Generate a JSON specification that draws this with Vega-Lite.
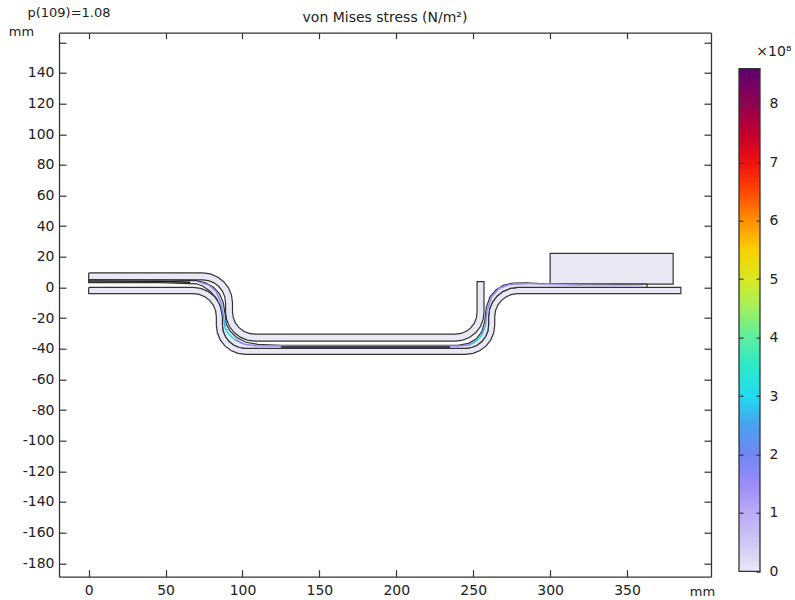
{
"$schema":"https://vega.github.io/schema/vega-lite/v6.json",
"background":"white",
"padding":{"left":8,"top":6.7,"right":0,"bottom":0},
"bounds":"flush",
"spacing":28,
"config":{"view":{"stroke":null},"font":"DejaVu Sans",
"axis":{"grid":false,"domainColor":"#333333","domainWidth":1.3,"tickColor":"#333333","tickWidth":1.2,"labelColor":"#222222","labelFont":"DejaVu Sans","labelFontSize":14,"titleFont":"DejaVu Sans","titleFontWeight":"normal","titleColor":"#222222"}},
"datasets":{
"outline":[
{"shape":"top","ord":1,"x":0,"y":9.5},{"shape":"top","ord":2,"x":74,"y":9.5},{"shape":"top","ord":3,"x":79.05,"y":8.84},{"shape":"top","ord":4,"x":83.75,"y":6.89},{"shape":"top","ord":5,"x":87.79,"y":3.79},{"shape":"top","ord":6,"x":90.89,"y":-0.25},{"shape":"top","ord":7,"x":92.84,"y":-4.95},{"shape":"top","ord":8,"x":93.5,"y":-10},{"shape":"top","ord":9,"x":93.5,"y":-16},{"shape":"top","ord":10,"x":94,"y":-19.75},{"shape":"top","ord":11,"x":95.44,"y":-23.25},{"shape":"top","ord":12,"x":97.75,"y":-26.25},{"shape":"top","ord":13,"x":100.75,"y":-28.56},{"shape":"top","ord":14,"x":104.25,"y":-30},{"shape":"top","ord":15,"x":108,"y":-30.5},{"shape":"top","ord":16,"x":238.5,"y":-30.5},{"shape":"top","ord":17,"x":242.12,"y":-30.02},{"shape":"top","ord":18,"x":245.5,"y":-28.62},{"shape":"top","ord":19,"x":248.4,"y":-26.4},{"shape":"top","ord":20,"x":250.62,"y":-23.5},{"shape":"top","ord":21,"x":252.02,"y":-20.12},{"shape":"top","ord":22,"x":252.5,"y":-16.5},{"shape":"top","ord":23,"x":252.5,"y":3.8},{"shape":"top","ord":24,"x":257,"y":3.8},{"shape":"top","ord":25,"x":257,"y":-16.5},{"shape":"top","ord":26,"x":256.37,"y":-21.29},{"shape":"top","ord":27,"x":254.52,"y":-25.75},{"shape":"top","ord":28,"x":251.58,"y":-29.58},{"shape":"top","ord":29,"x":247.75,"y":-32.52},{"shape":"top","ord":30,"x":243.29,"y":-34.37},{"shape":"top","ord":31,"x":238.5,"y":-35},{"shape":"top","ord":32,"x":108,"y":-35},{"shape":"top","ord":33,"x":103.08,"y":-34.35},{"shape":"top","ord":34,"x":98.5,"y":-32.45},{"shape":"top","ord":35,"x":94.56,"y":-29.44},{"shape":"top","ord":36,"x":91.55,"y":-25.5},{"shape":"top","ord":37,"x":89.65,"y":-20.92},{"shape":"top","ord":38,"x":89,"y":-16},{"shape":"top","ord":39,"x":89,"y":-10},{"shape":"top","ord":40,"x":88.49,"y":-6.12},{"shape":"top","ord":41,"x":86.99,"y":-2.5},{"shape":"top","ord":42,"x":84.61,"y":0.61},{"shape":"top","ord":43,"x":81.5,"y":2.99},{"shape":"top","ord":44,"x":77.88,"y":4.49},{"shape":"top","ord":45,"x":74,"y":5},{"shape":"top","ord":46,"x":0,"y":5},{"shape":"top","ord":47,"x":0,"y":9.5},
{"shape":"bottom","ord":1,"x":0,"y":0},{"shape":"bottom","ord":2,"x":68,"y":0},{"shape":"bottom","ord":3,"x":72.92,"y":-0.65},{"shape":"bottom","ord":4,"x":77.5,"y":-2.55},{"shape":"bottom","ord":5,"x":81.44,"y":-5.56},{"shape":"bottom","ord":6,"x":84.45,"y":-9.5},{"shape":"bottom","ord":7,"x":86.35,"y":-14.08},{"shape":"bottom","ord":8,"x":87,"y":-19},{"shape":"bottom","ord":9,"x":87,"y":-24.7},{"shape":"bottom","ord":10,"x":87.51,"y":-28.58},{"shape":"bottom","ord":11,"x":89.01,"y":-32.2},{"shape":"bottom","ord":12,"x":91.39,"y":-35.31},{"shape":"bottom","ord":13,"x":94.5,"y":-37.69},{"shape":"bottom","ord":14,"x":98.12,"y":-39.19},{"shape":"bottom","ord":15,"x":102,"y":-39.7},{"shape":"bottom","ord":16,"x":245,"y":-39.7},{"shape":"bottom","ord":17,"x":248.88,"y":-39.19},{"shape":"bottom","ord":18,"x":252.5,"y":-37.69},{"shape":"bottom","ord":19,"x":255.61,"y":-35.31},{"shape":"bottom","ord":20,"x":257.99,"y":-32.2},{"shape":"bottom","ord":21,"x":259.49,"y":-28.58},{"shape":"bottom","ord":22,"x":260,"y":-24.7},{"shape":"bottom","ord":23,"x":260,"y":-19},{"shape":"bottom","ord":24,"x":260.65,"y":-14.08},{"shape":"bottom","ord":25,"x":262.55,"y":-9.5},{"shape":"bottom","ord":26,"x":265.56,"y":-5.56},{"shape":"bottom","ord":27,"x":269.5,"y":-2.55},{"shape":"bottom","ord":28,"x":274.08,"y":-0.65},{"shape":"bottom","ord":29,"x":279,"y":0},{"shape":"bottom","ord":30,"x":385,"y":0},{"shape":"bottom","ord":31,"x":385,"y":-4},{"shape":"bottom","ord":32,"x":279,"y":-4},{"shape":"bottom","ord":33,"x":275.12,"y":-4.51},{"shape":"bottom","ord":34,"x":271.5,"y":-6.01},{"shape":"bottom","ord":35,"x":268.39,"y":-8.39},{"shape":"bottom","ord":36,"x":266.01,"y":-11.5},{"shape":"bottom","ord":37,"x":264.51,"y":-15.12},{"shape":"bottom","ord":38,"x":264,"y":-19},{"shape":"bottom","ord":39,"x":264,"y":-24.7},{"shape":"bottom","ord":40,"x":263.35,"y":-29.62},{"shape":"bottom","ord":41,"x":261.45,"y":-34.2},{"shape":"bottom","ord":42,"x":258.44,"y":-38.14},{"shape":"bottom","ord":43,"x":254.5,"y":-41.15},{"shape":"bottom","ord":44,"x":249.92,"y":-43.05},{"shape":"bottom","ord":45,"x":245,"y":-43.7},{"shape":"bottom","ord":46,"x":102,"y":-43.7},{"shape":"bottom","ord":47,"x":97.08,"y":-43.05},{"shape":"bottom","ord":48,"x":92.5,"y":-41.15},{"shape":"bottom","ord":49,"x":88.56,"y":-38.14},{"shape":"bottom","ord":50,"x":85.55,"y":-34.2},{"shape":"bottom","ord":51,"x":83.65,"y":-29.62},{"shape":"bottom","ord":52,"x":83,"y":-24.7},{"shape":"bottom","ord":53,"x":83,"y":-19},{"shape":"bottom","ord":54,"x":82.49,"y":-15.12},{"shape":"bottom","ord":55,"x":80.99,"y":-11.5},{"shape":"bottom","ord":56,"x":78.61,"y":-8.39},{"shape":"bottom","ord":57,"x":75.5,"y":-6.01},{"shape":"bottom","ord":58,"x":71.88,"y":-4.51},{"shape":"bottom","ord":59,"x":68,"y":-4},{"shape":"bottom","ord":60,"x":0,"y":-4},{"shape":"bottom","ord":61,"x":0,"y":0},
{"shape":"block","ord":1,"x":300,"y":2.2},{"shape":"block","ord":2,"x":380,"y":2.2},{"shape":"block","ord":3,"x":380,"y":22.2},{"shape":"block","ord":4,"x":300,"y":22.2},{"shape":"block","ord":5,"x":300,"y":2.2},
{"shape":"sheet","ord":1,"x":0,"y":5.2},{"shape":"sheet","ord":2,"x":46,"y":5},{"shape":"sheet","ord":3,"x":70,"y":4.4},{"shape":"sheet","ord":4,"x":76,"y":3},{"shape":"sheet","ord":5,"x":81,"y":0.3},{"shape":"sheet","ord":6,"x":85,"y":-4},{"shape":"sheet","ord":7,"x":87.5,"y":-10},{"shape":"sheet","ord":8,"x":88.8,"y":-18},{"shape":"sheet","ord":9,"x":89.5,"y":-24},{"shape":"sheet","ord":10,"x":92,"y":-28.5},{"shape":"sheet","ord":11,"x":96,"y":-32.5},{"shape":"sheet","ord":12,"x":102,"y":-35.6},{"shape":"sheet","ord":13,"x":110,"y":-37.2},{"shape":"sheet","ord":14,"x":125,"y":-37.8},{"shape":"sheet","ord":15,"x":240,"y":-37.8},{"shape":"sheet","ord":16,"x":247,"y":-36.5},{"shape":"sheet","ord":17,"x":252,"y":-33.5},{"shape":"sheet","ord":18,"x":255.5,"y":-29},{"shape":"sheet","ord":19,"x":257.5,"y":-22},{"shape":"sheet","ord":20,"x":258.5,"y":-13},{"shape":"sheet","ord":21,"x":261,"y":-6},{"shape":"sheet","ord":22,"x":265,"y":-1.5},{"shape":"sheet","ord":23,"x":270,"y":1.5},{"shape":"sheet","ord":24,"x":276,"y":2.9},{"shape":"sheet","ord":25,"x":285,"y":3},{"shape":"sheet","ord":26,"x":300,"y":2.2},{"shape":"sheet","ord":27,"x":363,"y":2.2},{"shape":"sheet","ord":28,"x":363,"y":0},{"shape":"sheet","ord":29,"x":279,"y":0},{"shape":"sheet","ord":30,"x":274.08,"y":-0.65},{"shape":"sheet","ord":31,"x":269.5,"y":-2.55},{"shape":"sheet","ord":32,"x":265.56,"y":-5.56},{"shape":"sheet","ord":33,"x":262.55,"y":-9.5},{"shape":"sheet","ord":34,"x":260.65,"y":-14.08},{"shape":"sheet","ord":35,"x":260,"y":-19},{"shape":"sheet","ord":36,"x":260,"y":-24.7},{"shape":"sheet","ord":37,"x":259.49,"y":-28.58},{"shape":"sheet","ord":38,"x":257.99,"y":-32.2},{"shape":"sheet","ord":39,"x":255.61,"y":-35.31},{"shape":"sheet","ord":40,"x":252.5,"y":-37.69},{"shape":"sheet","ord":41,"x":248.88,"y":-39.19},{"shape":"sheet","ord":42,"x":245,"y":-39.7},{"shape":"sheet","ord":43,"x":102,"y":-39.7},{"shape":"sheet","ord":44,"x":98.12,"y":-39.19},{"shape":"sheet","ord":45,"x":94.5,"y":-37.69},{"shape":"sheet","ord":46,"x":91.39,"y":-35.31},{"shape":"sheet","ord":47,"x":89.01,"y":-32.2},{"shape":"sheet","ord":48,"x":87.51,"y":-28.58},{"shape":"sheet","ord":49,"x":87,"y":-24.7},{"shape":"sheet","ord":50,"x":87,"y":-19},{"shape":"sheet","ord":51,"x":85.5,"y":-12},{"shape":"sheet","ord":52,"x":83,"y":-7},{"shape":"sheet","ord":53,"x":79,"y":-2.5},{"shape":"sheet","ord":54,"x":74,"y":1},{"shape":"sheet","ord":55,"x":70,"y":2.4},{"shape":"sheet","ord":56,"x":46,"y":3.2},{"shape":"sheet","ord":57,"x":0,"y":3.2},{"shape":"sheet","ord":58,"x":0,"y":5.2}
],
"stress":[
{"x":72,"y":3.5,"x2":78,"y2":1.6,"stress":1.5},{"x":78,"y":1.6,"x2":83,"y2":-3,"stress":1.5},{"x":83,"y":-3,"x2":86,"y2":-10,"stress":1.8},{"x":86,"y":-10,"x2":87.8,"y2":-20,"stress":2},{"x":87.8,"y":-20,"x2":88.5,"y2":-26,"stress":2.6},{"x":88.5,"y":-26,"x2":91,"y2":-30.5,"stress":3.2},{"x":91,"y":-30.5,"x2":95,"y2":-34,"stress":3},{"x":95,"y":-34,"x2":101,"y2":-37,"stress":2},{"x":101,"y":-37,"x2":110,"y2":-38.2,"stress":1.6},{"x":110,"y":-38.2,"x2":240,"y2":-38.2,"stress":1.4},{"x":240,"y":-38.2,"x2":247,"y2":-37.6,"stress":1.8},{"x":247,"y":-37.6,"x2":252,"y2":-35,"stress":2.4},{"x":252,"y":-35,"x2":255.5,"y2":-31,"stress":3.2},{"x":255.5,"y":-31,"x2":258,"y2":-25,"stress":2.6},{"x":258,"y":-25,"x2":259,"y2":-15,"stress":1.8},{"x":259,"y":-15,"x2":262,"y2":-6,"stress":1.7},{"x":262,"y":-6,"x2":267,"y2":-0.5,"stress":1.6},{"x":267,"y":-0.5,"x2":273,"y2":1.8,"stress":1.7},{"x":273,"y":1.8,"x2":285,"y2":2.5,"stress":1.4},{"x":285,"y":2.5,"x2":320,"y2":1.5,"stress":1.2},{"x":320,"y":1.5,"x2":360,"y2":1,"stress":0.8}
],
"dark":[
{"part":"left","ord":1,"x":0,"y":4.2},{"part":"left","ord":2,"x":46,"y":4.1},{"part":"left","ord":3,"x":66,"y":3.4},
{"part":"floor","ord":1,"x":125,"y":-38.9},{"part":"floor","ord":2,"x":235,"y":-38.9}
],
"frame":[{"lo":0,"hi":8.6}]
},
"hconcat":[
{
"width":652,"height":544,
"title":{"text":"von Mises stress (N/m²)","fontSize":14,"fontWeight":"normal","font":"DejaVu Sans","color":"#222222","anchor":"middle","offset":-18},
"resolve":{"axis":{"x":"independent","y":"independent"}},
"layer":[
{"data":{"name":"outline"},
 "mark":{"type":"line","fill":"#e9e9f5","stroke":"#333333","strokeWidth":1.2,"clip":true},
 "encoding":{
  "x":{"field":"x","type":"quantitative","scale":{"domain":[-19.3,404.6],"nice":false,"zero":false},
   "axis":{"orient":"bottom","values":[0,50,100,150,200,250,300,350],"tickSize":-7,"labelPadding":14,"title":"mm","titleFontSize":13,"titleAngle":0,"titleX":643,"titleY":9,"zindex":1,"labelFlush":false}},
  "y":{"field":"y","type":"quantitative","scale":{"domain":[-188.8,166.3],"nice":false,"zero":false},
   "axis":{"orient":"left","values":[-180,-160,-140,-120,-100,-80,-60,-40,-20,0,20,40,60,80,100,120,140,160],"labelExpr":"datum.value==160?'':''+datum.value","tickSize":-7,"labelPadding":12,"title":"mm","titleFontSize":13,"titleAngle":0,"titleX":-38,"titleY":6,"zindex":1}},
  "detail":{"field":"shape"},
  "order":{"field":"ord","type":"quantitative"}
 }},
{"data":{"name":"stress"},
 "mark":{"type":"rule","strokeWidth":1.5,"clip":true},
 "encoding":{
  "x":{"field":"x","type":"quantitative","axis":{"orient":"top","values":[0,50,100,150,200,250,300,350],"tickSize":-6,"labels":false,"title":"p(109)=1.08","titleFontSize":13,"titleAngle":0,"titleX":-32,"titleY":-13,"titleAlign":"left","zindex":1}},
  "y":{"field":"y","type":"quantitative","axis":{"orient":"right","values":[-180,-160,-140,-120,-100,-80,-60,-40,-20,0,20,40,60,80,100,120,140,160],"tickSize":-7,"labels":false,"title":null,"zindex":1}},
  "x2":{"field":"x2"},"y2":{"field":"y2"},
  "color":{"field":"stress","type":"quantitative","legend":null,
   "scale":{"domain":[0,0.5,1,1.5,2,2.5,3,3.5,4,4.5,5,5.5,6,6.5,7,7.5,8,8.6],"range":["#e9e9f5","#cfc6f5","#bbaaf5","#9a8cf8","#6f86f2","#4aa0f0","#20dcf0","#2be8c8","#5ceea0","#a0f060","#d8e820","#f8d000","#ff9000","#ff4800","#f01010","#c00030","#900050","#5c0070"]}}
 }},
{"data":{"name":"dark"},
 "mark":{"type":"line","stroke":"#1a1a1a","strokeWidth":1.5,"clip":true},
 "encoding":{
  "x":{"field":"x","type":"quantitative","axis":null},
  "y":{"field":"y","type":"quantitative","axis":null},
  "detail":{"field":"part"},
  "order":{"field":"ord","type":"quantitative"}
 }}
]
},
{
"width":21,"height":544,
"resolve":{"axis":{"y":"independent"}},
"layer":[
{"data":{"name":"frame"},
 "mark":{"type":"rect","stroke":"#333333","strokeWidth":1.3,"fill":{"gradient":"linear","x1":0,"y1":1,"x2":0,"y2":0,"stops":[{"offset":0,"color":"#e9e9f5"},{"offset":0.0581,"color":"#cfc6f5"},{"offset":0.1163,"color":"#bbaaf5"},{"offset":0.1744,"color":"#9a8cf8"},{"offset":0.2326,"color":"#6f86f2"},{"offset":0.2907,"color":"#4aa0f0"},{"offset":0.3488,"color":"#20dcf0"},{"offset":0.407,"color":"#2be8c8"},{"offset":0.4651,"color":"#5ceea0"},{"offset":0.5233,"color":"#a0f060"},{"offset":0.5814,"color":"#d8e820"},{"offset":0.6395,"color":"#f8d000"},{"offset":0.6977,"color":"#ff9000"},{"offset":0.7558,"color":"#ff4800"},{"offset":0.814,"color":"#f01010"},{"offset":0.8721,"color":"#c00030"},{"offset":0.9302,"color":"#900050"},{"offset":1,"color":"#5c0070"}]}},
 "encoding":{
  "x":{"datum":0,"type":"quantitative","scale":{"domain":[0,1],"nice":false,"zero":false},"axis":null},
  "x2":{"datum":1},
  "y":{"field":"lo","type":"quantitative","scale":{"domain":[-0.09,9.216],"nice":false,"zero":false},
   "axis":{"orient":"left","values":[1,2,3,4,5,6,7,8],"domain":false,"tickSize":-4,"labels":false,"title":null,"zindex":1}},
  "y2":{"field":"hi"}
 }},
{"data":{"name":"frame"},
 "mark":{"type":"rect","fill":null,"stroke":null},
 "encoding":{
  "x":{"datum":0,"type":"quantitative","axis":null},
  "x2":{"datum":1},
  "y":{"field":"lo","type":"quantitative",
   "axis":{"orient":"right","values":[0,1,2,3,4,5,6,7,8],"labelExpr":"''+datum.value","domain":false,"tickSize":-4,"labelPadding":13,"title":"×10⁸","titleFontSize":14,"titleAngle":0,"titleX":31,"titleY":26,"titleAlign":"right","zindex":1}},
  "y2":{"field":"hi"}
 }}
]
}
]
}
